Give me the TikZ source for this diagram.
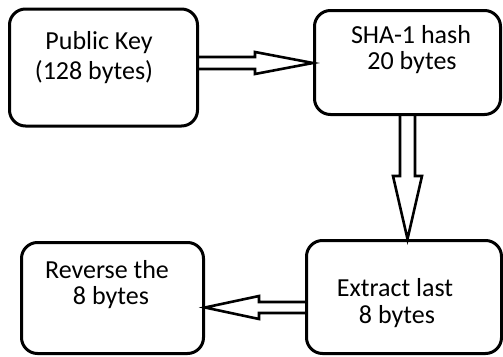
\documentclass[tikz,border=0pt]{standalone}
\usepackage{fontspec}
\setmainfont{Carlito}
\usetikzlibrary{calc}
\begin{document}
\begin{tikzpicture}[x=1pt,y=-1pt,
  box/.style={draw=black,line width=3pt,rounded corners=16pt,inner sep=0pt},
  lbl/.style={font=\fontsize{26}{30}\selectfont,inner sep=0pt,anchor=center},
  hollow/.style={draw=black,line width=2.6pt,line join=miter}]
\useasboundingbox (0,0) rectangle (503,356);
\node[box,minimum width=188pt,minimum height=117pt] (b1) at (103.5,67.5) {};
\node[box,minimum width=186pt,minimum height=104pt] (b2) at (407.5,62.5) {};
\node[box,minimum width=182pt,minimum height=111pt] (b3) at (112.5,298) {};
\node[box,minimum width=195pt,minimum height=113pt] (b4) at (404,297) {};
\node[lbl] (t1a) at (99,43) {Public Key};
\node[lbl] (t1b) at (94,72) {(128 bytes)};
\node[lbl] (t2a) at (411,35) {SHA-1 hash};
\node[lbl] (t2b) at (412,63) {20 bytes};
\node[lbl] (t3a) at (107,270) {Reverse the};
\node[lbl] (t3b) at (111,298) {8 bytes};
\node[lbl] (t4a) at (395,288) {Extract last};
\node[lbl] (t4b) at (397,317) {8 bytes};
% arrow 1
\coordinate (s1) at (b1.east |- 0,63);
\coordinate (e1) at (b2.west |- 0,63);
\draw[hollow] ($(s1)+(0,-6)$) -- ($(e1)+(-58,-6)$) -- ($(e1)+(-58,-11)$) -- (e1)
  -- ($(e1)+(-58,11)$) -- ($(e1)+(-58,6)$) -- ($(s1)+(0,6)$);
% arrow 2
\coordinate (s2) at (b2.south);
\coordinate (e2) at (b4.north -| b2.south);
\draw[hollow] ($(s2)+(-7.5,0)$) -- ($(e2)+(-7.5,-63)$) -- ($(e2)+(-14.5,-63)$) -- (e2)
  -- ($(e2)+(14.5,-63)$) -- ($(e2)+(7.5,-63)$) -- ($(s2)+(7.5,0)$);
% arrow 3
\coordinate (s3) at (b4.west |- 0,307.5);
\coordinate (e3) at (b3.east |- 0,307.5);
\draw[hollow] ($(s3)+(0,-5.5)$) -- ($(e3)+(54,-5.5)$) -- ($(e3)+(54,-11.5)$) -- (e3)
  -- ($(e3)+(54,11.5)$) -- ($(e3)+(54,5.5)$) -- ($(s3)+(0,5.5)$);
\end{tikzpicture}
\end{document}
